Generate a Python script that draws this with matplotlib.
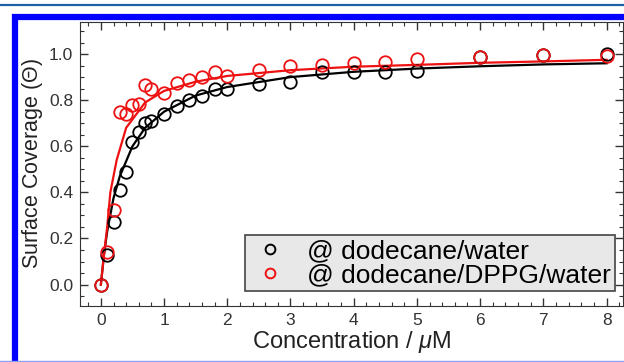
import matplotlib
matplotlib.use("Agg")
import matplotlib.pyplot as plt
from matplotlib.ticker import MultipleLocator
from matplotlib.patches import Rectangle
from matplotlib.lines import Line2D

plt.rcParams['font.family'] = ['Liberation Sans', 'DejaVu Sans']
plt.rcParams['mathtext.fontset'] = 'custom'
plt.rcParams['mathtext.rm'] = 'Liberation Sans'
plt.rcParams['mathtext.it'] = 'Liberation Sans:italic'

# measured points
conc_water = [0, 0.1, 0.2, 0.3, 0.4, 0.5, 0.6, 0.7, 0.8, 1.0, 1.2, 1.4, 1.6, 1.8, 2.0,
              2.5, 3.0, 3.5, 4.0, 4.5, 5.0, 6.0, 7.0, 8.0]
cov_water = [0.0, 0.13, 0.27, 0.41, 0.49, 0.62, 0.66, 0.70, 0.71, 0.74, 0.775, 0.80, 0.82, 0.85, 0.85,
             0.87, 0.88, 0.92, 0.922, 0.922, 0.925, 0.985, 0.995, 1.0]
conc_dppg = [0, 0.1, 0.2, 0.3, 0.4, 0.5, 0.6, 0.7, 0.8, 1.0, 1.2, 1.4, 1.6, 1.8, 2.0,
             2.5, 3.0, 3.5, 4.0, 4.5, 5.0, 6.0, 7.0, 8.0]
cov_dppg = [0.0, 0.14, 0.325, 0.75, 0.74, 0.78, 0.785, 0.866, 0.848, 0.83, 0.873, 0.887, 0.899, 0.92, 0.905,
            0.93, 0.948, 0.952, 0.96, 0.967, 0.977, 0.986, 0.996, 0.99]

# fitted curves
fit_x_water = [0, 0.05, 0.1, 0.2, 0.3, 0.5, 0.7, 1.0, 1.5, 2, 3, 4, 5, 6, 7, 8]
fit_y_water = [0, 0.13, 0.23, 0.375, 0.47, 0.60, 0.68, 0.75, 0.82, 0.857, 0.90, 0.923, 0.937, 0.947, 0.955, 0.96]
fit_x_dppg = [0, 0.05, 0.1, 0.15, 0.25, 0.4, 0.7, 1.0, 1.5, 2, 3, 4, 5, 6, 7, 8]
fit_y_dppg = [0, 0.13, 0.25, 0.40, 0.54, 0.68, 0.79, 0.84, 0.88, 0.905, 0.93, 0.945, 0.953, 0.962, 0.968, 0.975]

labels = ['@ dodecane/water', '@ dodecane/DPPG/water']

fig = plt.figure(figsize=(6.24, 3.62), dpi=100)

# page decoration: thin rule on top and blue frame
fig.add_artist(Line2D([0, 1], [1 - 4.5/362, 1 - 4.5/362], color='#1f5fa8', lw=1.6, transform=fig.transFigure))
fig.add_artist(Rectangle((14.5/624, -0.05), 1.0, 1 - 17/362 + 0.05, transform=fig.transFigure,
                         fill=False, edgecolor='#0000ff', lw=4.5))
fig.add_artist(Line2D([0, 1], [1/362, 1/362], color='#8f9cf0', lw=1.0, transform=fig.transFigure))

ax = fig.add_axes([80/624, 1 - 306/362, 543/624, 284/362])

ax.plot(fit_x_water, fit_y_water, color='black', lw=1.6, zorder=2)
ax.plot(fit_x_dppg, fit_y_dppg, color='#ee1111', lw=1.6, zorder=3)
ax.plot(conc_water, cov_water, 'o', mfc='none', mec='black', ms=9, mew=1.3, zorder=4)
ax.plot(conc_dppg, cov_dppg, 'o', mfc='none', mec='#ee1111', ms=9, mew=1.3, zorder=5)

ax.set_xlim(-0.33, 8.26)
ax.set_ylim(-0.093, 1.139)
ax.xaxis.set_major_locator(MultipleLocator(1))
ax.xaxis.set_minor_locator(MultipleLocator(0.2))
ax.yaxis.set_major_locator(MultipleLocator(0.2))
ax.yaxis.set_minor_locator(MultipleLocator(0.05))
ax.yaxis.set_major_formatter(matplotlib.ticker.FormatStrFormatter('%.1f'))
ax.tick_params(which='both', direction='in', top=True, right=True, labelsize=12.5, colors='#333333',
               labelcolor='#333333')
ax.tick_params(which='major', length=6, width=1, pad=5)
ax.tick_params(which='minor', length=3, width=0.8)
for s in ax.spines.values():
    s.set_color('#333333')

ax.set_xlabel(r'Concentration / $\mathit{\mu}$M', fontsize=17, color='#222222', labelpad=1)
ax.set_ylabel(r'Surface Coverage ($\mathit{\Theta}$)', fontsize=15.5, color='#222222', labelpad=3)

h1 = Line2D([], [], ls='none', marker='o', mfc='none', mec='black', ms=7, mew=1.4)
h2 = Line2D([], [], ls='none', marker='o', mfc='none', mec='#ee1111', ms=7, mew=1.4)
leg = ax.legend([h1, h2], labels, loc='lower right', bbox_to_anchor=(615/624, 1 - 291/362),
                bbox_transform=fig.transFigure, fontsize=19,
                frameon=True, fancybox=False, handlelength=1.6, handletextpad=0.6,
                borderpad=0.15, labelspacing=0.0, borderaxespad=0)
leg.get_frame().set_facecolor('#e8e8e8')
leg.get_frame().set_edgecolor('#444444')
leg.get_frame().set_alpha(1)
leg.get_frame().set_linewidth(1.2)

plt.savefig('out.png', dpi=100)
